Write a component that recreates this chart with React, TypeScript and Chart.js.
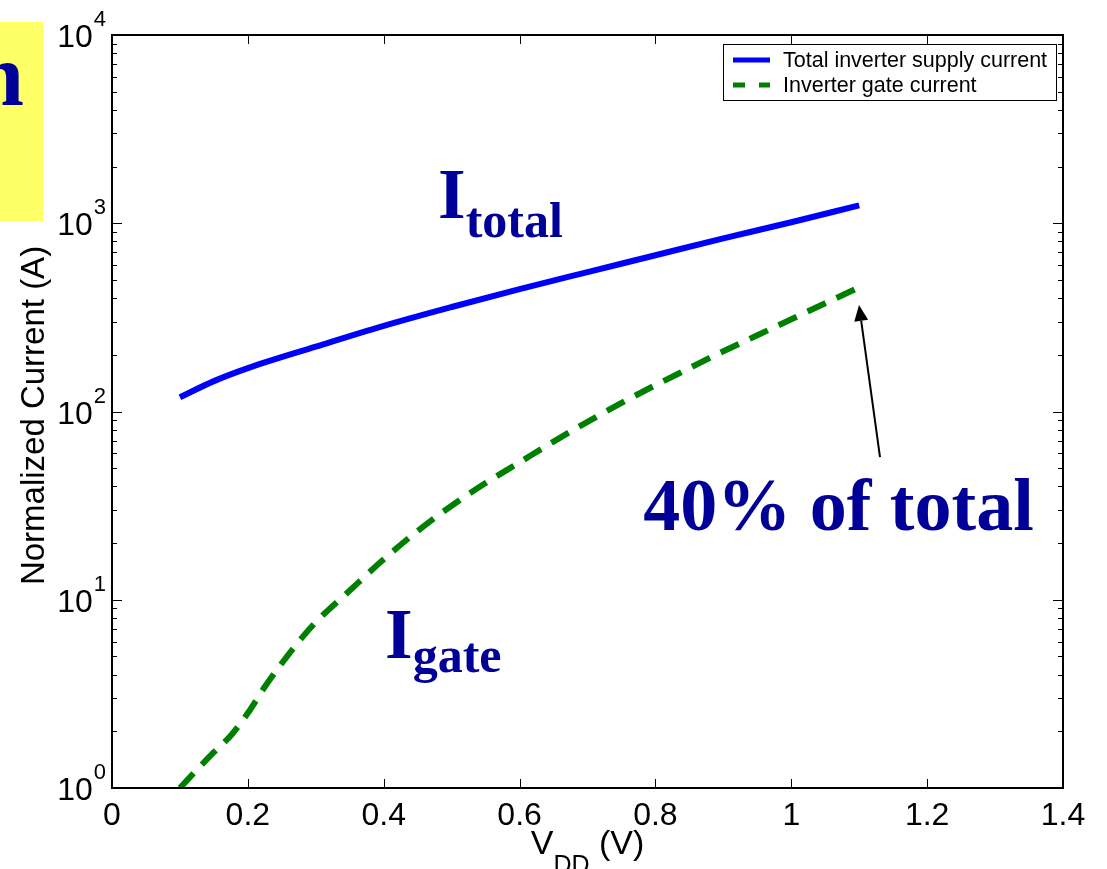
import { useEffect, useRef } from "react";
import { Chart, registerables } from "chart.js";

Chart.register(...registerables);

// ---------- data ----------
const seriesLabels = ["Total inverter supply current", "Inverter gate current"];

const vddTotal = [0.1, 0.15, 0.2, 0.3, 0.4, 0.5, 0.6, 0.7, 0.8, 0.9, 1.0, 1.1];
const totalCurrent = [119, 145, 170, 221, 285, 359, 447, 550, 676, 832, 1012, 1245];

const vddGate = [
  0.1, 0.125, 0.15, 0.175, 0.2, 0.225, 0.25, 0.275, 0.3, 0.35, 0.4, 0.45, 0.5,
  0.55, 0.6, 0.65, 0.7, 0.75, 0.8, 0.85, 0.9, 0.95, 1.0, 1.05, 1.1,
];
const gateCurrent = [
  1.0, 1.25, 1.55, 1.9, 2.5, 3.45, 4.6, 6.0, 7.6, 11.2, 16.4, 23.2, 31.6, 41.7,
  53.7, 69.2, 88.1, 111, 138, 170, 209, 254, 309, 376, 457,
];

const yDecades = [1, 10, 100, 1000, 10000];
const yExponents = ["0", "1", "2", "3", "4"];
const xTickStep = 0.2;
const xMin = 0;
const xMax = 1.4;

const yTitle = "Normalized Current (A)";
const xTitleMain = "V";
const xTitleSub = "DD";
const xTitleUnit = " (V)";

// annotations (data coordinates)
const totalLabel = { x: 0.48, y: 1067, main: "I", sub: "total" };
const gateLabel = { x: 0.402, y: 4.9, main: "I", sub: "gate" };
const pctLabel = { x: 0.782, y: 23.5, text: "40% of total" };
const arrowTail = { x: 1.1306, y: 57.3 };
const arrowHead = { x: 1.0997, y: 368 };
const sideText = "n";

const BLUE_TEXT = "#000099";
const SANS = "'Liberation Sans', Arial, sans-serif";
const SERIF = "'Liberation Serif', 'Times New Roman', serif";

const decor = {
  id: "decor",
  afterDatasetsDraw(chart: any) {
    const { ctx, chartArea: a, scales } = chart;
    const xs = scales.x;
    const ys = scales.y;
    ctx.save();

    // tick marks (inward, on all four sides)
    ctx.strokeStyle = "#000";
    ctx.lineWidth = 1;
    ctx.beginPath();
    xs.ticks.forEach((t: any) => {
      const px = Math.round(xs.getPixelForValue(t.value)) + 0.5;
      if (px <= a.left + 2 || px >= a.right - 2) return;
      ctx.moveTo(px, a.bottom);
      ctx.lineTo(px, a.bottom - 9);
      ctx.moveTo(px, a.top);
      ctx.lineTo(px, a.top + 9);
    });
    yDecades.forEach((d, i) => {
      const py = Math.round(ys.getPixelForValue(d)) + 0.5;
      ctx.moveTo(a.left, py);
      ctx.lineTo(a.left + 10, py);
      ctx.moveTo(a.right, py);
      ctx.lineTo(a.right - 10, py);
      if (i < yDecades.length - 1) {
        for (let k = 2; k <= 9; k++) {
          const pm = Math.round(ys.getPixelForValue(k * d)) + 0.5;
          ctx.moveTo(a.left, pm);
          ctx.lineTo(a.left + 5, pm);
          ctx.moveTo(a.right, pm);
          ctx.lineTo(a.right - 5, pm);
        }
      }
    });
    ctx.stroke();

    // frame
    ctx.lineWidth = 2;
    ctx.strokeRect(a.left, a.top, a.right - a.left, a.bottom - a.top);

    // y tick labels with superscript exponent
    ctx.fillStyle = "#000";
    ctx.textBaseline = "alphabetic";
    ctx.textAlign = "left";
    yDecades.forEach((d, i) => {
      const py = ys.getPixelForValue(d);
      ctx.font = `22px ${SANS}`;
      const we = ctx.measureText(yExponents[i]).width;
      ctx.font = `32px ${SANS}`;
      const wb = ctx.measureText("10").width;
      const right = a.left - 6;
      const xb = right - we - 1 - wb;
      ctx.fillText("10", xb, py + 12);
      ctx.font = `22px ${SANS}`;
      ctx.fillText(yExponents[i], right - we, py - 9);
    });

    // y axis title
    ctx.save();
    ctx.translate(35, (a.top + a.bottom) / 2 + 4);
    ctx.rotate(-Math.PI / 2);
    ctx.font = `33px ${SANS}`;
    ctx.textAlign = "center";
    ctx.textBaseline = "middle";
    ctx.fillText(yTitle, 0, 0);
    ctx.restore();

    // x axis title with subscript
    ctx.font = `34px ${SANS}`;
    const w1 = ctx.measureText(xTitleMain).width;
    const w3 = ctx.measureText(xTitleUnit).width;
    ctx.font = `25px ${SANS}`;
    const w2 = ctx.measureText(xTitleSub).width;
    const cx = (a.left + a.right) / 2;
    let tx = cx - (w1 + w2 + w3) / 2;
    const base = 854;
    ctx.textAlign = "left";
    ctx.font = `34px ${SANS}`;
    ctx.fillText(xTitleMain, tx, base);
    tx += w1;
    ctx.font = `25px ${SANS}`;
    ctx.fillText(xTitleSub, tx, base + 19);
    tx += w2;
    ctx.font = `34px ${SANS}`;
    ctx.fillText(xTitleUnit, tx, base);

    // legend box
    const ds = chart.data.datasets;
    const lx = 723, ly = 44, lw = 333, lh = 56;
    ctx.fillStyle = "#fff";
    ctx.fillRect(lx, ly, lw, lh);
    ctx.strokeStyle = "#000";
    ctx.lineWidth = 1;
    ctx.strokeRect(lx + 0.5, ly + 0.5, lw, lh);
    ds.forEach((d: any, i: number) => {
      const rowY = ly + 16 + i * 25;
      ctx.save();
      ctx.strokeStyle = d.borderColor;
      ctx.lineWidth = 5;
      ctx.setLineDash(d.borderDash ? [12, 14] : []);
      ctx.beginPath();
      ctx.moveTo(733, rowY);
      ctx.lineTo(770, rowY);
      ctx.stroke();
      ctx.restore();
      ctx.fillStyle = "#000";
      ctx.font = `21.5px ${SANS}`;
      ctx.textBaseline = "middle";
      ctx.fillText(d.label, 783, rowY + 1);
    });

    // annotation texts
    ctx.fillStyle = BLUE_TEXT;
    ctx.textBaseline = "alphabetic";
    const drawSub = (lab: any, drop: number) => {
      const px = xs.getPixelForValue(lab.x);
      const py = ys.getPixelForValue(lab.y);
      ctx.font = `bold 71px ${SERIF}`;
      ctx.fillText(lab.main, px, py);
      const wi = ctx.measureText(lab.main).width;
      ctx.font = `bold 50px ${SERIF}`;
      ctx.fillText(lab.sub, px + wi, py + drop);
    };
    drawSub(totalLabel, 19);
    drawSub(gateLabel, 14);
    ctx.font = `bold 74px ${SERIF}`;
    ctx.fillText(pctLabel.text, xs.getPixelForValue(pctLabel.x), ys.getPixelForValue(pctLabel.y));

    // arrow
    const ax0 = xs.getPixelForValue(arrowTail.x);
    const ay0 = ys.getPixelForValue(arrowTail.y);
    const ax1 = xs.getPixelForValue(arrowHead.x);
    const ay1 = ys.getPixelForValue(arrowHead.y);
    const ang = Math.atan2(ay1 - ay0, ax1 - ax0);
    const hl = 16, hw = 7;
    const bx = ax1 - hl * Math.cos(ang);
    const by = ay1 - hl * Math.sin(ang);
    ctx.strokeStyle = "#000";
    ctx.fillStyle = "#000";
    ctx.lineWidth = 2;
    ctx.beginPath();
    ctx.moveTo(ax0, ay0);
    ctx.lineTo(bx, by);
    ctx.stroke();
    ctx.beginPath();
    ctx.moveTo(ax1, ay1);
    ctx.lineTo(bx + hw * Math.sin(ang), by - hw * Math.cos(ang));
    ctx.lineTo(bx - hw * Math.sin(ang), by + hw * Math.cos(ang));
    ctx.closePath();
    ctx.fill();

    // yellow slide box at left edge
    ctx.fillStyle = "#ffff66";
    ctx.fillRect(0, 22, 43, 199);
    ctx.fillStyle = BLUE_TEXT;
    ctx.font = `bold 88px ${SERIF}`;
    ctx.textAlign = "right";
    ctx.fillText(sideText, 24, 105);

    ctx.restore();
  },
};

export default function App() {
  const ref = useRef<HTMLCanvasElement | null>(null);

  useEffect(() => {
    if (!ref.current) return;
    const chart = new Chart(ref.current, {
      type: "line",
      data: {
        datasets: [
          {
            label: seriesLabels[0],
            data: vddTotal.map((x, i) => ({ x, y: totalCurrent[i] })),
            borderColor: "#0000ff",
            borderWidth: 6,
            pointRadius: 0,
            fill: false,
            cubicInterpolationMode: "monotone",
            borderCapStyle: "butt",
          },
          {
            label: seriesLabels[1],
            data: vddGate.map((x, i) => ({ x, y: gateCurrent[i] })),
            borderColor: "#008000",
            borderWidth: 6,
            borderDash: [20, 12],
            pointRadius: 0,
            fill: false,
            cubicInterpolationMode: "monotone",
            borderCapStyle: "butt",
          },
        ],
      },
      options: {
        animation: false,
        responsive: true,
        maintainAspectRatio: false,
        layout: { padding: { top: 35, right: 44, left: 0, bottom: 0 } },
        plugins: { legend: { display: false }, tooltip: { enabled: false } },
        scales: {
          x: {
            type: "linear",
            min: xMin,
            max: xMax,
            ticks: {
              stepSize: xTickStep,
              font: { family: SANS, size: 32 },
              color: "#000",
              padding: 9,
              maxRotation: 0,
              autoSkip: false,
              callback: (v: any) => String(Number(Number(v).toFixed(1))),
            },
            grid: { display: false, drawTicks: false },
            border: { display: false },
            afterFit: (s: any) => {
              s.height = 81;
            },
          },
          y: {
            type: "logarithmic",
            min: yDecades[0],
            max: yDecades[yDecades.length - 1],
            ticks: { display: false, autoSkip: false },
            grid: { display: false, drawTicks: false },
            border: { display: false },
            afterFit: (s: any) => {
              s.width = 112;
            },
          },
        },
      } as any,
      plugins: [decor],
    });
    return () => chart.destroy();
  }, []);

  return (
    <div style={{ position: "absolute", left: 0, top: 0, width: 1107, height: 869, background: "#fff" }}>
      <canvas ref={ref} />
    </div>
  );
}
